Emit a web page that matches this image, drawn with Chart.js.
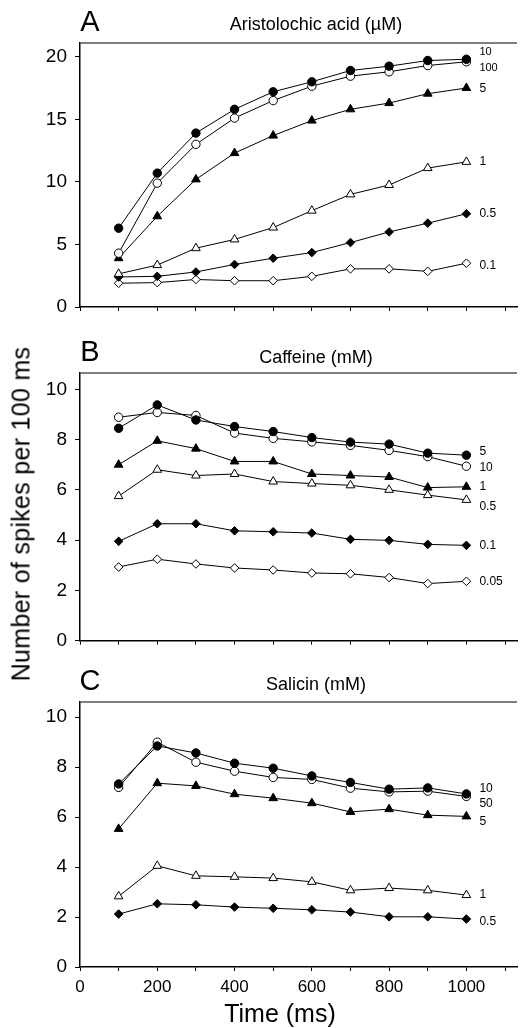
<!DOCTYPE html>
<html>
<head>
<meta charset="utf-8">
<script src="https://cdn.jsdelivr.net/npm/chart.js@4.4.1/dist/chart.umd.min.js"></script>
<style>
  body { margin: 0; background: #fff; }
  #wrap { position: relative; width: 523px; height: 1028px; overflow: hidden; }
  canvas { position: absolute; left: 0; }
  #ytitle {
    position: absolute; left: 21px; top: 514px;
    transform: translate(-50%, -50%) rotate(-90deg);
    font: 25px "Liberation Sans", Arial, sans-serif; letter-spacing: 0.3px;
    white-space: nowrap; color: #000;
  }
</style>
</head>
<body>
<div id="wrap">
  <canvas id="chartA" width="523" height="330" style="top:0px"></canvas>
  <canvas id="chartB" width="523" height="330" style="top:330px"></canvas>
  <canvas id="chartC" width="523" height="368" style="top:660px"></canvas>
  <div id="ytitle">Number of spikes per 100 ms</div>
</div>
<script>
const times = [100, 200, 300, 400, 500, 600, 700, 800, 900, 1000];

// A: Aristolochic acid (µM)
const aaLabels = ['10', '100', '5', '1', '0.5', '0.1'];
const aa10  = [6.3, 10.7, 13.9, 15.8, 17.2, 18.0, 18.9, 19.25, 19.7, 19.8];
const aa100 = [4.3, 9.9, 13.0, 15.1, 16.5, 17.65, 18.45, 18.8, 19.3, 19.6];
const aa5   = [3.9, 7.25, 10.2, 12.3, 13.7, 14.9, 15.8, 16.3, 17.05, 17.5];
const aa1   = [2.65, 3.35, 4.7, 5.4, 6.35, 7.7, 9.0, 9.75, 11.1, 11.6];
const aa05  = [2.4, 2.45, 2.8, 3.4, 3.9, 4.35, 5.15, 6.0, 6.7, 7.45];
const aa01  = [1.9, 1.95, 2.2, 2.1, 2.1, 2.45, 3.05, 3.05, 2.85, 3.5];

// B: Caffeine (mM)
const cfLabels = ['5', '10', '1', '0.5', '0.1', '0.05'];
const cf5   = [8.45, 9.38, 8.78, 8.52, 8.32, 8.08, 7.9, 7.82, 7.46, 7.38];
const cf10  = [8.89, 9.08, 8.96, 8.26, 8.05, 7.91, 7.77, 7.57, 7.32, 6.94];
const cf1   = [7.0, 7.95, 7.64, 7.13, 7.13, 6.63, 6.57, 6.51, 6.09, 6.12];
const cf05  = [5.75, 6.8, 6.57, 6.63, 6.33, 6.25, 6.18, 6.0, 5.79, 5.6];
const cf01  = [3.95, 4.65, 4.65, 4.37, 4.33, 4.28, 4.03, 3.99, 3.83, 3.79];
const cf005 = [2.93, 3.24, 3.05, 2.89, 2.81, 2.69, 2.66, 2.51, 2.27, 2.36];

// C: Salicin (mM)
const saLabels = ['10', '50', '5', '1', '0.5'];
const sa10 = [7.33, 8.85, 8.57, 8.16, 7.96, 7.65, 7.39, 7.12, 7.17, 6.93];
const sa50 = [7.19, 9.0, 8.2, 7.84, 7.59, 7.51, 7.16, 7.01, 7.04, 6.83];
const sa5  = [5.53, 7.36, 7.25, 6.92, 6.76, 6.56, 6.21, 6.32, 6.08, 6.03];
const sa1  = [2.83, 4.05, 3.65, 3.61, 3.56, 3.41, 3.07, 3.16, 3.07, 2.88];
const sa05 = [2.12, 2.53, 2.49, 2.4, 2.35, 2.29, 2.2, 2.01, 2.01, 1.92];

// tick values
const xTickMarks = [0, 100, 200, 300, 400, 500, 600, 700, 800, 900, 1000, 1100];
const xTickLabels = [0, 200, 400, 600, 800, 1000];
const yTicksA = [0, 5, 10, 15, 20];
const yTicksBC = [0, 2, 4, 6, 8, 10];

const FONT = '"Liberation Sans", Arial, Helvetica, sans-serif';

// marker styles in the order the series appear in each panel
const markers = [
  { pointStyle: 'circle', radius: 4.2, fill: '#000' },
  { pointStyle: 'circle', radius: 4.2, fill: '#fff' },
  { pointStyle: 'triangle', radius: 5, fill: '#000' },
  { pointStyle: 'triangle', radius: 5, fill: '#fff' },
  { pointStyle: 'rectRot', radius: 4.3, fill: '#000' },
  { pointStyle: 'rectRot', radius: 4.3, fill: '#fff' },
];

function makeDatasets(series, labels, dys, fontSizes) {
  return series.map((vals, i) => ({
    label: labels[i],
    data: vals.map((v, j) => ({ x: times[j], y: v })),
    borderColor: '#000',
    borderWidth: 1,
    pointStyle: markers[i].pointStyle,
    pointRadius: markers[i].radius,
    pointBackgroundColor: markers[i].fill,
    pointBorderColor: '#000',
    pointBorderWidth: 1,
    fill: false,
    tension: 0,
    labelDy: dys[i],
    labelSize: fontSizes ? fontSizes[i] : 12,
  }));
}

const panelText = {
  id: 'panelText',
  afterDraw(chart, args, opts) {
    const ctx = chart.ctx;
    const a = chart.chartArea;
    ctx.save();
    // top frame line
    ctx.strokeStyle = '#555';
    ctx.lineWidth = 1.5;
    ctx.beginPath();
    ctx.moveTo(a.left, a.top);
    ctx.lineTo(a.right, a.top);
    ctx.stroke();

    ctx.fillStyle = '#000';
    ctx.textBaseline = 'middle';
    ctx.textAlign = 'center';
    ctx.font = '29px ' + FONT;
    ctx.fillText(opts.letter, 90, opts.letterY);
    ctx.font = '18px ' + FONT;
    ctx.fillText(opts.title, 316, opts.titleY);

    // concentration labels at the end of each line
    ctx.textAlign = 'left';
    chart.data.datasets.forEach((ds, i) => {
      const pts = chart.getDatasetMeta(i).data;
      const p = pts[pts.length - 1];
      ctx.font = ds.labelSize + 'px ' + FONT;
      ctx.fillText(ds.label, p.x + 13, p.y + ds.labelDy);
    });

    if (opts.xTitle) {
      ctx.textAlign = 'center';
      ctx.font = '25px ' + FONT;
      ctx.fillText(opts.xTitle, 280, opts.xTitleY);
    }
    ctx.restore();
  }
};

function setTicks(values) {
  return (scale) => {
    scale.ticks = values.map(v => ({ value: v }));
  };
}

function makeChart(id, datasets, o) {
  return new Chart(document.getElementById(id), {
    type: 'line',
    data: { datasets },
    plugins: [panelText],
    options: {
      responsive: false,
      animation: false,
      devicePixelRatio: 1,
      layout: { padding: { top: o.padTop, left: 0, right: 0, bottom: 0 } },
      plugins: {
        legend: { display: false },
        tooltip: { enabled: false },
        panelText: o.text,
      },
      scales: {
        x: {
          type: 'linear',
          min: 0,
          max: 1131,
          afterFit: (s) => { s.height = o.xHeight; },
          afterBuildTicks: setTicks(xTickMarks),
          border: { display: true, color: '#000', width: 1.5 },
          grid: { drawOnChartArea: false, drawTicks: true, tickLength: 4, color: '#000', lineWidth: 1 },
          ticks: {
            autoSkip: false,
            maxRotation: 0,
            color: '#000',
            padding: 6,
            font: { family: FONT, size: 17 },
            callback: (v) => (o.xLabels && xTickLabels.includes(v)) ? String(v) : '',
          },
        },
        y: {
          min: 0,
          max: o.yMax,
          afterFit: (s) => { s.width = 80; },
          afterBuildTicks: setTicks(o.yTicks),
          border: { display: true, color: '#000', width: 1.5 },
          grid: { drawOnChartArea: false, drawTicks: true, tickLength: 5, color: '#000', lineWidth: 1 },
          ticks: {
            color: '#000',
            padding: 8,
            font: { family: FONT, size: 19 },
          },
        },
      },
    },
  });
}

makeChart('chartA',
  makeDatasets([aa10, aa100, aa5, aa1, aa05, aa01], aaLabels, [-7, 6, 1, 0, 0, 2], [11, 11, 12, 12, 12, 12]),
  { padTop: 43, xHeight: 23, yMax: 21.1, yTicks: yTicksA,
    text: { letter: 'A', letterY: 23, title: 'Aristolochic acid (\u00b5M)', titleY: 25 } });

makeChart('chartB',
  makeDatasets([cf5, cf10, cf1, cf05, cf01, cf005], cfLabels, [-3, 1, 0, 7, 0, 0]),
  { padTop: 43, xHeight: 18, yMax: 10.65, yTicks: yTicksBC,
    text: { letter: 'B', letterY: 23, title: 'Caffeine (mM)', titleY: 28 } });

makeChart('chartC',
  makeDatasets([sa10, sa50, sa5, sa1, sa05], saLabels, [-5, 7, 5, 0, 3]),
  { padTop: 42, xHeight: 61, yMax: 10.61, yTicks: yTicksBC, xLabels: true,
    text: { letter: 'C', letterY: 22, title: 'Salicin (mM)', titleY: 25, xTitle: 'Time (ms)', xTitleY: 355 } });
</script>
</body>
</html>
